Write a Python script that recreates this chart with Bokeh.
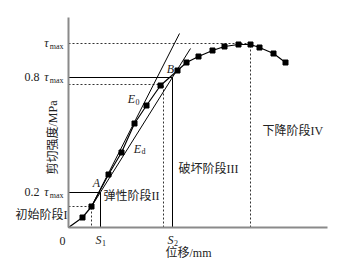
from bokeh.plotting import figure
from bokeh.models import Range1d, FixedTicker, Label, LinearAxis
from bokeh.embed import file_html
from bokeh.resources import INLINE
import math

# ---- data (displacement and shear strength in schematic units) ----
disp = [0, 1.4, 2.3, 4.0, 5.3, 6.6, 7.8, 9.2, 10.9, 11.8, 13.0, 14.4, 15.6, 17.0, 18.2, 19.1, 20.5, 21.7]
stress = [0, 1.0, 2.1, 5.3, 7.5, 10.4, 12.2, 14.2, 15.7, 16.5, 17.1, 17.7, 18.1, 18.3, 18.3, 18.0, 17.4, 16.5]

tau_max = 18.4          # level of tau_max
tau_08 = 15.0           # level of 0.8 tau_max
tau_02 = 3.5            # level of 0.2 tau_max
s1 = 3.2                # S1
s2 = 10.4               # S2
a_pt = (2.3, 2.1)       # point A
dot_b = (9.5, 14.3)     # dotted guide near B
peak_x = 18.2           # displacement at peak

e0_end = (11.1, 19.4)   # end of E0 line
ed_end = (12.2, 17.9)   # end of Ed line

x_axis_end = 25.9
y_axis_end = 21.0

tick_levels = [tau_max, tau_08, tau_02]
tick_prefix = ["", "0.8", "0.2"]

stage_labels = ["初始阶段I", "弹性阶段II", "破坏阶段III", "下降阶段IV"]

SERIF = "'Liberation Serif', 'Noto Sans CJK SC'"

p = figure(width=338, height=262, output_backend="svg", toolbar_location=None,
           x_range=Range1d(-6.8, 27.0), y_range=Range1d(-3.5, 22.7),
           x_axis_location=None, y_axis_location=None,
           min_border=0)
p.outline_line_color = None
p.grid.visible = False
p.background_fill_color = "white"

xax = LinearAxis(fixed_location=0, bounds=(0, x_axis_end), ticker=FixedTicker(ticks=[]))
yax = LinearAxis(fixed_location=0, bounds=(0, y_axis_end), ticker=FixedTicker(ticks=[]))
for ax in (xax, yax):
    ax.axis_line_color = "#8a8a8a"
    ax.axis_line_width = 2
    ax.major_tick_line_color = None
    ax.minor_tick_line_color = None
    ax.major_tick_out = 0
    ax.major_tick_in = 0
    ax.major_label_standoff = 0
    ax.major_label_text_font_size = "0px"
p.add_layout(xax, "below")
p.add_layout(yax, "left")

dot = dict(line_color="#333333", line_width=1, line_dash="2 2")
sol = dict(line_color="black", line_width=1)

# guide lines
p.line([0, peak_x, peak_x], [tau_max, tau_max, 0], **dot)
p.line([0, dot_b[0], dot_b[0]], [dot_b[1], dot_b[1], 0], **dot)
p.line([0, a_pt[0], a_pt[0]], [a_pt[1], a_pt[1], 0], **dot)
p.line([0, s2, s2], [tau_08, tau_08, 0], **sol)
p.line([0, s1, s1], [tau_02, tau_02, 0], **sol)

# modulus lines
p.line([a_pt[0], e0_end[0]], [a_pt[1], e0_end[1]], **sol)
p.line([a_pt[0], ed_end[0]], [a_pt[1], ed_end[1]], **sol)

# curve
p.line(disp, stress, line_color="black", line_width=1.2)
p.scatter(disp[1:], stress[1:], marker="square", size=5, color="black")

def lab(x, y, t, size="12px", style="normal", align="center", base="middle", angle=0):
    p.add_layout(Label(x=x, y=y, text=t, text_font=SERIF, text_font_size=size,
                       text_font_style=style, text_align=align, text_baseline=base,
                       text_color="#222222", angle=angle))

# y tick labels
for lvl, pre in zip(tick_levels, tick_prefix):
    lab(-0.5, lvl - 0.25, "max", size="8px", align="right")
    lab(-2.0, lvl + 0.05, "τ", size="12px", style="italic", align="right")
    if pre:
        lab(-2.9, lvl + 0.05, pre, size="12px", align="right")

# x tick labels
lab(-0.6, -1.3, "0", size="12px")
for sx, sub in ((s1, "1"), (s2, "2")):
    lab(sx - 0.2, -1.2, "S", size="12px", style="italic")
    lab(sx + 0.35, -1.5, sub, size="8px")

# axis titles
lab(12.0, -2.5, "位移/mm", size="12px")
lab(-1.6, 9.0, "剪切强度/MPa", size="12px", angle=math.pi / 2)

# stage labels
lab(-0.1, 1.3, stage_labels[0], align="right")
lab(3.5, 3.2, stage_labels[1], align="left")
lab(11.0, 5.9, stage_labels[2], align="left")
lab(19.4, 9.7, stage_labels[3], align="left")

# point labels
lab(2.8, 4.5, "A", style="italic")
lab(10.2, 15.9, "B", style="italic")
lab(6.3, 12.9, "E", style="italic")
lab(6.9, 12.6, "0", size="8px")
lab(6.9, 7.9, "E", style="italic")
lab(7.5, 7.6, "d", size="8px")

open("out.html", "w").write(file_html(p, INLINE))
